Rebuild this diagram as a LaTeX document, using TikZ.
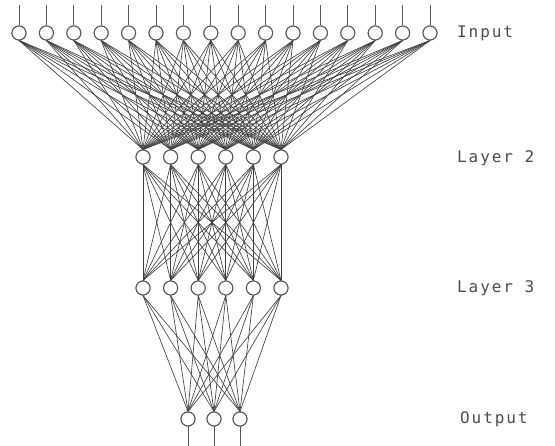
\documentclass[tikz,border=0pt]{standalone}
\usepackage{fontspec}
\newfontfamily\labelfont[LetterSpace=12]{DejaVu Sans Mono}
\begin{document}
\begin{tikzpicture}[x=1pt,y=-1pt,
  neuron/.style={circle,draw=black!65,fill=white,line width=1pt,minimum size=14pt,inner sep=0pt},
  link/.style={draw=black!75,line width=0.65pt},
  stub/.style={draw=black!65,line width=1pt},
  lbl/.style={anchor=west,font=\labelfont\fontsize{16}{16}\selectfont,text=black!70,inner sep=0pt}]
\useasboundingbox (0,0) rectangle (555,446);
% nodes
\foreach \k in {1,...,16} \node[neuron] (i\k) at ({19+(\k-1)*27.4},33) {};
\foreach \k in {1,...,6} \node[neuron] (h\k) at ({143+(\k-1)*27.6},157) {};
\foreach \k in {1,...,6} \node[neuron] (g\k) at ({143+(\k-1)*27.6},288) {};
\foreach \k in {1,...,3} \node[neuron] (o\k) at ({188+(\k-1)*26},419) {};
\foreach \k in {1,...,16} \coordinate (t\k) at ({19+(\k-1)*27.4},5);
\foreach \k in {1,...,3} \coordinate (b\k) at ({188+(\k-1)*26},446);
% connections
\foreach \a in {1,...,16} \foreach \b in {1,...,6} \draw[link] (i\a.south) -- (h\b.north);
\foreach \a in {1,...,6} \foreach \b in {1,...,6} \draw[link] (h\a.south) -- (g\b.north);
\foreach \a in {1,...,6} \foreach \b in {1,...,3} \draw[link] (g\a.south) -- (o\b.north);
\foreach \k in {1,...,16} \draw[stub] (t\k) -- (i\k.north);
\foreach \k in {1,...,3} \draw[stub] (o\k.south) -- (b\k);
% redraw circles on top
\foreach \k in {1,...,16} \node[neuron] at (i\k) {};
\foreach \k in {1,...,6} \node[neuron] at (h\k) {};
\foreach \k in {1,...,6} \node[neuron] at (g\k) {};
\foreach \k in {1,...,3} \node[neuron] at (o\k) {};
% labels
\node[lbl] (lin) at (457,33) {Input};
\node[lbl] (l2) at (457,158) {Layer 2};
\node[lbl] (l3) at (457,288) {Layer 3};
\node[lbl] (lout) at (460,419) {Output};
\end{tikzpicture}
\end{document}
